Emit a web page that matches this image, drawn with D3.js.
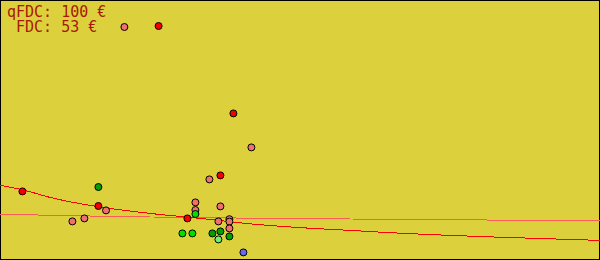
<!DOCTYPE html>
<html>
<head>
<meta charset="utf-8">
<script src="https://cdn.jsdelivr.net/npm/d3@7"></script>
<style>
  html, body { margin: 0; padding: 0; background: #fff; }
  svg { display: block; }
</style>
</head>
<body>
<svg></svg>
<script>
const width = 600;
const height = 260;

// offers: position (arbitrary units) and price level, plus grade
const offerX = [62.2, 79.3, 116.7, 125.7, 110.2, 104.7, 11.2, 49.2, 49.2, 53, 42.2, 36.2,
  97.7, 110.2, 97.7, 97.7, 93.7, 109.2, 114.7, 114.7, 114.7, 91.2, 96.2, 106.2, 110.2,
  109.2, 114.7, 121.7];
const offerY = [116.5, 117, 73.3, 56.3, 42.3, 40.3, 34.3, 36.5, 27, 24.8, 20.8, 19.3,
  28.8, 26.8, 25, 23, 20.8, 19.3, 20.4, 19.2, 15.8, 13.3, 13.3, 13.3, 14.3,
  10.3, 11.8, 3.8];
const offerGrade = ["pink", "red", "red", "pink", "red", "pink", "red", "green", "red", "pink", "pink", "pink",
  "pink", "pink", "pink", "lime", "red", "pink", "pink", "pink", "pink", "lime", "lime", "green", "green",
  "light", "green", "blue"];

// trend lines sampled along x
const trendX = [0, 12.5, 25, 50, 75, 100, 125, 150, 175, 200, 225, 250, 275, 300];
const trendRed = [37.4, 34.8, 31.3, 26.5, 23.3, 20.8, 18.1, 16.2, 14.8, 13.4, 12.3, 11.4, 10.6, 9.8];
const trendPink = [22.9, 22.6, 22.4, 21.9, 21.5, 21.4, 20.9, 20.9, 20.5, 20.4, 20.4, 19.9, 19.9, 19.9];

const labels = ["qFDC: 100 €", " FDC: 53 €"];

const colors = {
  red: "#f40000",
  pink: "#f07070",
  green: "#00a000",
  lime: "#00e000",
  light: "#70f070",
  blue: "#6868e8"
};

const svg = d3.select("svg").attr("width", width).attr("height", height);

const x = d3.scaleLinear().domain([0, 300]).range([0, width]);
const y = d3.scaleLinear().domain([0, 130]).range([height, 0]);

svg.append("rect")
  .attr("x", 0.5).attr("y", 0.5)
  .attr("width", width - 1).attr("height", height - 1)
  .attr("fill", "#dcd13c")
  .attr("stroke", "#000");

const line = d3.line().x((d, i) => x(trendX[i])).y(d => y(d)).curve(d3.curveMonotoneX);

svg.append("path")
  .attr("d", line(trendPink))
  .attr("fill", "none")
  .attr("stroke", "#ff5a5a")
  .attr("stroke-width", 1)
  .attr("shape-rendering", "crispEdges");

svg.append("path")
  .attr("d", line(trendRed))
  .attr("fill", "none")
  .attr("stroke", "#ff0000")
  .attr("stroke-width", 1)
  .attr("shape-rendering", "crispEdges");

svg.selectAll("circle.offer")
  .data(offerX.map((d, i) => ({ x: d, y: offerY[i], g: offerGrade[i] })))
  .enter()
  .append("circle")
  .attr("class", "offer")
  .attr("cx", d => x(d.x))
  .attr("cy", d => y(d.y))
  .attr("r", 3.5)
  .attr("fill", d => colors[d.g])
  .attr("stroke", "#000")
  .attr("stroke-width", 1);

svg.selectAll("text.label")
  .data(labels)
  .enter()
  .append("text")
  .attr("class", "label")
  .attr("x", 7)
  .attr("y", (d, i) => 17 + i * 14.5)
  .attr("xml:space", "preserve")
  .style("white-space", "pre")
  .attr("font-family", "DejaVu Sans Mono")
  .attr("font-size", "15px")
  .attr("fill", "#a81808")
  .text(d => d);
</script>
</body>
</html>
